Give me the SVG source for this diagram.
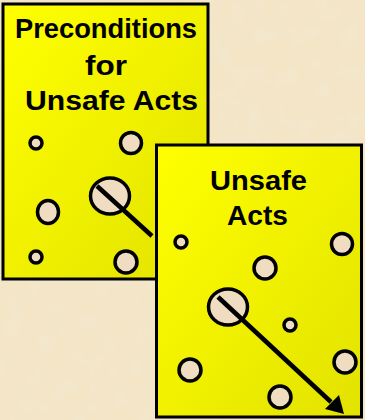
<svg xmlns="http://www.w3.org/2000/svg" width="365" height="420" viewBox="0 0 365 420">
  <defs>
    <linearGradient id="cardFill" x1="0" y1="0" x2="1" y2="1">
      <stop offset="0" stop-color="#ffff00"/>
      <stop offset="1" stop-color="#e2e200"/>
    </linearGradient>
    <filter id="paper" x="0" y="0" width="100%" height="100%">
      <feTurbulence type="fractalNoise" baseFrequency="0.045" numOctaves="3" seed="7" result="n"/>
      <feColorMatrix in="n" type="matrix" values="0 0 0 0 0.90  0 0 0 0 0.83  0 0 0 0 0.68  0 0 0 -1.0 0.55"/>
    </filter>
    <style>
      .card { fill: url(#cardFill); stroke: #000; stroke-width: 3; }
      .hole { fill: #f0dcc0; stroke: #000; stroke-width: 3.5; }
      .title { font-family: "Liberation Sans", Arial, sans-serif; font-weight: bold; font-size: 28px; fill: #000; }
      .path { stroke: #000; stroke-width: 4.5; fill: none; }
    </style>
  </defs>

  <rect x="0" y="0" width="365" height="420" fill="#f3e5c6"/>
  <rect x="0" y="0" width="365" height="420" filter="url(#paper)"/>

  <g id="preconditions">
    <rect class="card" x="3" y="4" width="205" height="275"/>
    <text class="title" x="15" y="38" textLength="182" lengthAdjust="spacingAndGlyphs">Preconditions</text>
    <text class="title" x="85" y="75" textLength="42" lengthAdjust="spacingAndGlyphs">for</text>
    <text class="title" x="25" y="110" textLength="173" lengthAdjust="spacingAndGlyphs">Unsafe Acts</text>
    <circle class="hole" cx="36" cy="143" r="6"/>
    <circle class="hole" cx="131" cy="143" r="10.5"/>
    <ellipse class="hole" cx="110" cy="196" rx="19.5" ry="18"/>
    <ellipse class="hole" cx="48" cy="212" rx="10.5" ry="11.5"/>
    <circle class="hole" cx="36" cy="257" r="6"/>
    <circle class="hole" cx="126" cy="262" r="11"/>
  </g>

  <g id="unsafe-acts">
    <rect class="card" x="156.5" y="145" width="205" height="272"/>
    <text class="title" x="210" y="190" textLength="97" lengthAdjust="spacingAndGlyphs">Unsafe</text>
    <text class="title" x="227" y="225" textLength="61" lengthAdjust="spacingAndGlyphs">Acts</text>
    <circle class="hole" cx="181" cy="242" r="6"/>
    <circle class="hole" cx="342" cy="244" r="10.5"/>
    <circle class="hole" cx="265" cy="268" r="11"/>
    <ellipse class="hole" cx="228" cy="307" rx="19.5" ry="18"/>
    <circle class="hole" cx="290" cy="325" r="6"/>
    <circle class="hole" cx="190" cy="370" r="11"/>
    <circle class="hole" cx="345" cy="362" r="11"/>
    <circle class="hole" cx="280" cy="397" r="11"/>
  </g>

  <g id="connectors">
    <line class="path" x1="97" y1="186" x2="152" y2="236"/>
    <line class="path" x1="218" y1="297" x2="331" y2="402"/>
    <path d="M344,414 L325,409 L339,395 Z" fill="#000"/>
  </g>
</svg>
